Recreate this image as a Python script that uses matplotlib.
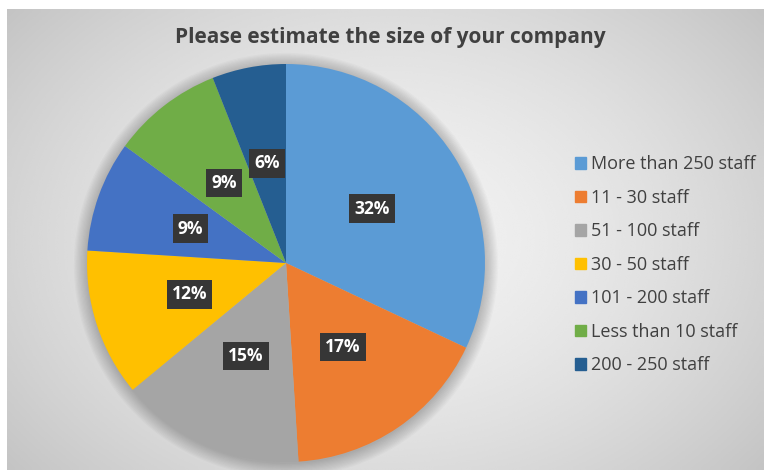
import matplotlib.pyplot as plt
import matplotlib.patches as mpatches
import numpy as np

# Survey answers, in the order Excel plotted them (clockwise from 12 o'clock)
categories = ["More than 250 staff", "11 - 30 staff", "51 - 100 staff",
              "30 - 50 staff", "101 - 200 staff", "Less than 10 staff",
              "200 - 250 staff"]
shares = [32, 17, 15, 12, 9, 9, 6]
colors = ["#5B9BD5", "#ED7D31", "#A5A5A5", "#FFC000",
          "#4472C4", "#70AD47", "#255E91"]

W, H = 764, 470
fig = plt.figure(figsize=(W / 100, H / 100), dpi=100)
fig.patch.set_facecolor("white")

# Radial grey gradient behind the chart
bg = fig.add_axes([7 / W, 0, 1 - 7 / W, 1 - 9 / H])
bg.set_axis_off()
yy, xx = np.mgrid[0:1:300j, 0:1:500j]
d = np.sqrt(((xx - 0.5) / 0.62) ** 2 + ((yy - 0.5) / 0.75) ** 2)
shade = np.clip(0.95 - 0.17 * d ** 1.6, 0, 1)
bg.imshow(shade, cmap="gray", vmin=0, vmax=1, aspect="auto",
          extent=[0, 1, 0, 1], interpolation="bicubic")

# Pie axes: centre (286, 263) px, radius 199 px
cx, cy, r = 286, 263, 199
ax = fig.add_axes([(cx - r) / W, (H - cy - r) / H, 2 * r / W, 2 * r / H])
ax.set_axis_off()

# soft drop shadow under the pie
for k in range(12):
    ax.add_patch(mpatches.Circle((0.0, -0.01), 1.0 + 0.006 * k,
                                 color="black", alpha=0.018, lw=0, zorder=0,
                                 clip_on=False))

wedges, _ = ax.pie(shares, colors=colors, startangle=90, counterclock=False,
                   radius=1, wedgeprops=dict(linewidth=0))
for w in wedges:
    w.set_zorder(2)
    w.set_clip_on(False)
ax.set_xlim(-1, 1)
ax.set_ylim(-1, 1)
ax.set_aspect("equal")

# value labels in dark boxes
total = sum(shares)
start = 90.0
for val in shares:
    span = 360.0 * val / total
    mid = np.deg2rad(start - span / 2)
    start -= span
    ax.text(0.51 * np.cos(mid), 0.51 * np.sin(mid), f"{val}%",
            ha="center", va="center", color="white", fontsize=12.5,
            fontweight="bold", family="Open Sans", zorder=5,
            bbox=dict(boxstyle="square,pad=0.3", fc="#363636", ec="none"))

fig.text(390 / W, 1 - 38 / H, "Please estimate the size of your company",
         ha="center", va="center", fontsize=15, fontweight="bold",
         color="#404040", family="Open Sans")

handles = [mpatches.Patch(color=c) for c in colors]
leg = fig.legend(handles, categories, loc="upper left",
                 bbox_to_anchor=(568 / W, 1 - 148 / H), frameon=False,
                 handlelength=0.6, handleheight=0.6, handletextpad=0.3,
                 labelspacing=0.86, borderaxespad=0,
                 prop=dict(family="Open Sans", size=13))
for t in leg.get_texts():
    t.set_color("#404040")

fig.savefig("out.png", dpi=100)
